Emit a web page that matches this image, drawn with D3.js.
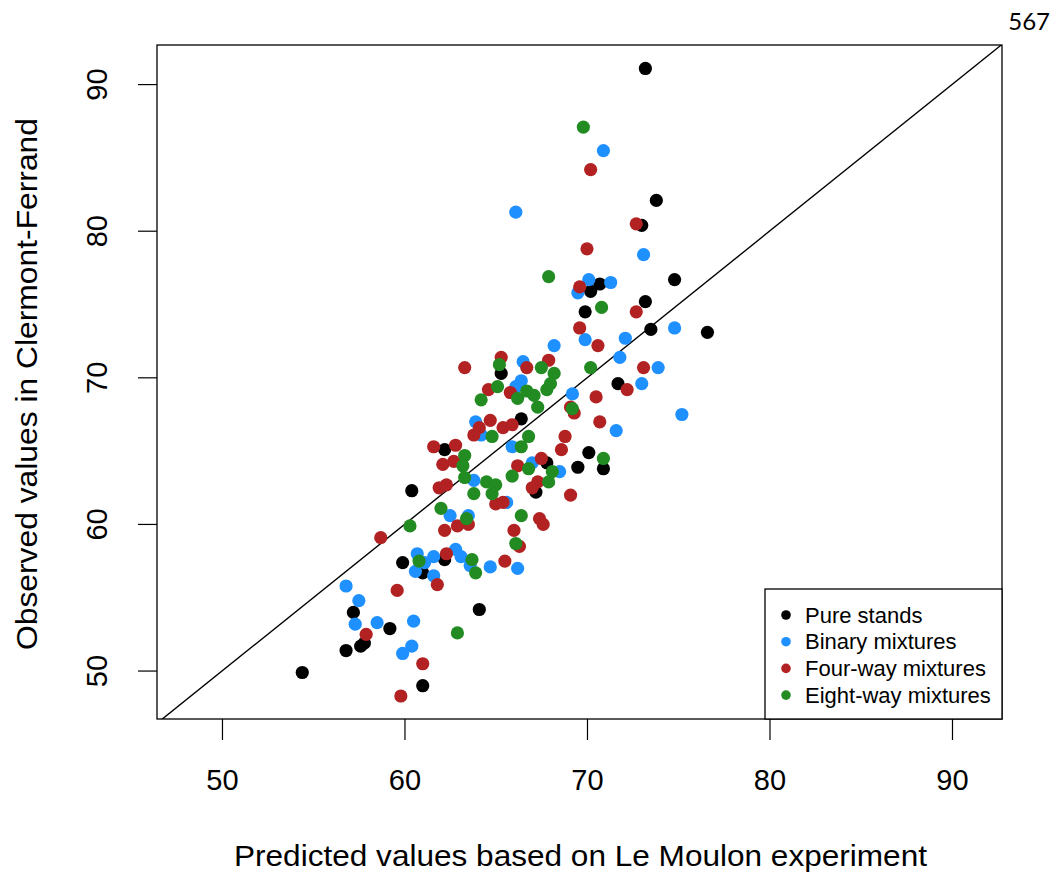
<!DOCTYPE html>
<html>
<head>
<meta charset="utf-8">
<script src="https://cdn.jsdelivr.net/npm/d3@7"></script>
<style>
  body { margin: 0; background: #fff; }
  svg { display: block; }
</style>
</head>
<body>
<div id="container"></div>
<script>
'use strict';
// group labels and colours
let groups = ['Pure stands', 'Binary mixtures', 'Four-way mixtures', 'Eight-way mixtures'];
let groupColors = ['black', '#1E90FF', '#B22222', '#228B22'];

// [predicted, observed]
let pure = [
	[73.2, 91.1], [73.8, 82.1], [73.0, 80.4], [70.7, 76.4], [70.2, 75.9], [74.8, 76.7],
	[73.2, 75.2], [69.9, 74.5], [73.5, 73.3], [76.6, 73.1], [71.7, 69.6], [65.3, 70.3],
	[66.4, 67.2], [70.1, 64.9], [69.5, 63.9], [70.9, 63.8], [67.8, 64.2], [67.2, 62.2],
	[62.2, 65.1], [60.4, 62.3], [59.9, 57.4], [61.0, 56.7], [62.2, 57.6], [57.2, 54.0],
	[59.2, 52.9], [56.8, 51.4], [57.6, 51.7], [57.8, 51.9], [54.4, 49.9], [64.1, 54.2],
	[61.0, 49.0]
];
let binary = [
	[70.9, 85.5], [66.1, 81.3], [73.1, 78.4], [70.1, 76.7], [71.3, 76.5], [69.5, 75.8],
	[74.8, 73.4], [69.9, 72.6], [72.1, 72.7], [71.8, 71.4], [73.9, 70.7], [73.0, 69.6],
	[75.2, 67.5], [71.6, 66.4], [68.2, 72.2], [66.5, 71.1], [66.4, 69.8], [66.1, 69.4],
	[69.2, 68.9], [63.9, 67.0], [64.2, 66.1], [65.9, 65.3], [68.5, 63.6], [67.0, 64.2],
	[63.8, 63.0], [65.6, 61.5], [62.5, 60.6], [63.5, 60.6], [62.8, 58.3], [63.1, 57.8],
	[63.6, 57.2], [64.7, 57.1], [66.2, 57.0], [60.7, 58.0], [61.6, 57.8], [60.6, 56.8],
	[61.1, 57.4], [61.6, 56.5], [60.5, 53.4], [59.9, 51.2], [60.4, 51.7], [56.8, 55.8],
	[57.5, 54.8], [57.3, 53.2], [58.5, 53.3]
];
let fourWay = [
	[70.2, 84.2], [72.7, 80.5], [70.0, 78.8], [69.6, 76.2], [72.7, 74.5], [69.6, 73.4],
	[70.6, 72.2], [73.1, 70.7], [72.2, 69.2], [70.5, 68.7], [70.7, 67.0], [63.3, 70.7],
	[65.3, 71.4], [66.7, 70.7], [67.9, 71.2], [64.6, 69.2], [65.8, 69.0], [64.7, 67.1],
	[65.4, 66.6], [65.9, 66.8], [64.1, 66.6], [63.8, 66.1], [69.1, 68.0], [69.3, 67.6],
	[68.8, 66.0], [68.6, 65.1], [67.5, 64.5], [66.2, 64.0], [67.3, 62.9], [67.0, 62.5],
	[69.1, 62.0], [61.6, 65.3], [62.8, 65.4], [62.1, 64.1], [62.7, 64.3], [61.9, 62.5],
	[62.3, 62.7], [65.0, 61.4], [65.4, 61.5], [67.4, 60.4], [67.6, 60.0], [66.0, 59.6],
	[62.9, 59.9], [63.5, 60.0], [62.2, 59.6], [58.7, 59.1], [66.3, 58.5], [62.3, 58.0],
	[65.5, 57.5], [59.6, 55.5], [61.8, 55.9], [61.0, 50.5], [59.8, 48.3], [57.9, 52.5]
];
let eightWay = [
	[69.8, 87.1], [67.9, 76.9], [70.8, 74.8], [70.2, 70.7], [65.2, 70.9], [67.5, 70.7],
	[68.2, 70.3], [65.1, 69.4], [64.2, 68.5], [66.2, 68.6], [66.7, 69.1], [67.1, 68.8],
	[67.3, 68.0], [67.8, 69.2], [68.0, 69.6], [69.2, 67.9], [64.8, 66.0], [66.8, 66.0],
	[66.4, 65.3], [63.3, 64.7], [63.2, 64.0], [70.9, 64.5], [68.1, 63.6], [66.8, 63.8],
	[65.9, 63.3], [67.9, 62.9], [63.3, 63.2], [64.5, 62.9], [65.0, 62.7], [64.8, 62.1],
	[63.8, 62.1], [66.4, 60.6], [62.0, 61.1], [63.4, 60.4], [60.3, 59.9], [66.1, 58.7],
	[63.7, 57.6], [63.9, 56.7], [60.8, 57.5], [62.9, 52.6]
];
let series = [pure, binary, fourWay, eightWay];

let ticks = [50, 60, 70, 80, 90];
let xLimits = [46.44, 92.74];
let yLimits = [46.73, 92.7];

let xTitle = 'Predicted values based on Le Moulon experiment';
let yTitle = 'Observed values in Clermont-Ferrand';
let pageNumber = '567';

let options = {
	width: 1056,
	height: 873,
	left: 157,
	right: 1002,
	top: 45,
	bottom: 719,
	font: '"Liberation Sans", Arial, sans-serif',
};

let svg = d3.select('#container')
	.append('svg')
	.attr('width', options.width)
	.attr('height', options.height)
	.style('background', '#fff');

let x = d3.scaleLinear().domain(xLimits).range([options.left, options.right]);
let y = d3.scaleLinear().domain(yLimits).range([options.bottom, options.top]);

svg.append('clipPath').attr('id', 'plotclip')
	.append('rect')
	.attr('x', options.left).attr('y', options.top)
	.attr('width', options.right - options.left)
	.attr('height', options.bottom - options.top);

// 1:1 line
svg.append('line')
	.attr('clip-path', 'url(#plotclip)')
	.attr('x1', x(xLimits[0] - 5)).attr('y1', y(xLimits[0] - 5))
	.attr('x2', x(xLimits[1] + 5)).attr('y2', y(xLimits[1] + 5))
	.attr('stroke', 'black')
	.attr('stroke-width', 1.4);

// points
series.forEach((data, i) => {
	svg.append('g')
		.selectAll('circle')
		.data(data)
		.enter()
		.append('circle')
		.attr('cx', d => x(d[0]))
		.attr('cy', d => y(d[1]))
		.attr('r', 6.6)
		.attr('fill', groupColors[i]);
});

// axes
let xAxis = svg.append('g')
	.attr('transform', 'translate(0,' + options.bottom + ')')
	.call(d3.axisBottom(x).tickValues(ticks).tickSize(21).tickPadding(29));
let yAxis = svg.append('g')
	.attr('transform', 'translate(' + options.left + ',0)')
	.call(d3.axisLeft(y).tickValues(ticks).tickSize(19).tickPadding(24));
[xAxis, yAxis].forEach(ax => {
	ax.select('.domain').remove();
	ax.selectAll('line').attr('stroke', 'black').attr('stroke-width', 1.2);
	ax.selectAll('text')
		.attr('fill', 'black')
		.style('font-family', options.font)
		.style('font-size', '29px');
});
xAxis.selectAll('text').attr('dy', '0.71em');
yAxis.selectAll('text')
	.attr('text-anchor', 'middle')
	.attr('dy', null)
	.attr('transform', d => 'translate(-60,' + y(d) + ') rotate(-90)')
	.attr('x', 0)
	.attr('y', 0)
	.attr('dominant-baseline', 'central');
yAxis.selectAll('.tick').attr('transform', null);
yAxis.selectAll('.tick line')
	.attr('y1', d => y(d)).attr('y2', d => y(d));

// frame
svg.append('rect')
	.attr('x', options.left).attr('y', options.top)
	.attr('width', options.right - options.left)
	.attr('height', options.bottom - options.top)
	.attr('fill', 'none')
	.attr('stroke', 'black')
	.attr('stroke-width', 1.3);

// titles
svg.append('text')
	.attr('x', (options.left + options.right) / 2 + 1)
	.attr('y', 866)
	.attr('text-anchor', 'middle')
	.attr('textLength', 693)
	.attr('lengthAdjust', 'spacingAndGlyphs')
	.style('font-family', options.font)
	.style('font-size', '30px')
	.text(xTitle);

svg.append('text')
	.attr('transform', 'translate(37,384) rotate(-90)')
	.attr('text-anchor', 'middle')
	.attr('textLength', 532)
	.attr('lengthAdjust', 'spacingAndGlyphs')
	.style('font-family', options.font)
	.style('font-size', '30px')
	.text(yTitle);

svg.append('text')
	.attr('x', 1050)
	.attr('y', 30)
	.attr('text-anchor', 'end')
	.style('font-family', 'Lato, "Open Sans", sans-serif')
	.style('font-size', '24px')
	.text(pageNumber);

// legend
let legend = svg.append('g');
legend.append('rect')
	.attr('x', 765).attr('y', 589)
	.attr('width', options.right - 765)
	.attr('height', options.bottom - 589)
	.attr('fill', 'white')
	.attr('stroke', 'black')
	.attr('stroke-width', 1.3);
let rows = legend.selectAll('g.row')
	.data(groups)
	.enter()
	.append('g')
	.attr('class', 'row')
	.attr('transform', (d, i) => 'translate(786,' + (615 + i * 26.7) + ')');
rows.append('circle')
	.attr('r', 4.8)
	.attr('fill', (d, i) => groupColors[i]);
rows.append('text')
	.attr('x', 19)
	.attr('dy', '0.35em')
	.style('font-family', options.font)
	.style('font-size', '22px')
	.text(d => d);
</script>
</body>
</html>
